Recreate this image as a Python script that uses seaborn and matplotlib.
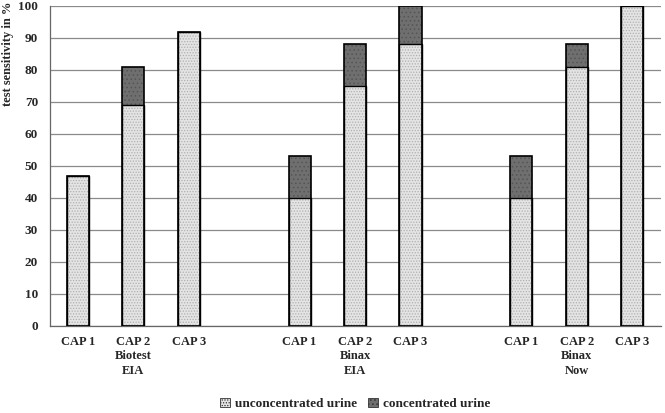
import numpy as np
import pandas as pd
import matplotlib
matplotlib.use("Agg")
import matplotlib.pyplot as plt
from matplotlib.patches import Patch
import seaborn as sns

# ---- data ----
groups = ["Biotest\nEIA", "Binax\nEIA", "Binax\nNow"]
caps = ["CAP 1", "CAP 2", "CAP 3"]
unconcentrated = [47, 69, 92, 40, 75, 88, 40, 81, 100]
concentrated_extra = [0, 12, 0, 13, 13, 12, 13, 7, 0]
legend_labels = ["unconcentrated urine", "concentrated urine"]
yticks = [0, 10, 20, 30, 40, 50, 60, 70, 80, 90, 100]
ylabel = "test sensitivity in %"

# ---- build table ----
rows = []
for gi, g in enumerate(groups):
    for ci, c in enumerate(caps):
        k = gi * 3 + ci
        rows.append(dict(pos=gi * 4 + ci, cap=c, group=g,
                         uncon=unconcentrated[k],
                         total=unconcentrated[k] + concentrated_extra[k]))
df = pd.DataFrame(rows)
ticklabels = [r.cap if i % 3 != 1 else f"{r.cap}\n{r.group}" for i, r in enumerate(df.itertuples())]

sns.set_theme(style="white")
plt.rcParams['font.family'] = ['Liberation Serif', 'DejaVu Serif']
plt.rcParams['hatch.linewidth'] = 0.6

fig = plt.figure(figsize=(6.65, 4.13), dpi=100)
ax = fig.add_axes([0.075, 0.2107, 0.919, 0.7748])

light = "#e4e4e4"
dark = "#6f6f6f"
W = 0.4

# concentrated (total) bars - dark
sns.barplot(data=df, x="pos", y="total", native_scale=True, width=W,
            color=dark, saturation=1, hatch="....", edgecolor="#555555",
            linewidth=0, ax=ax, zorder=2)
# unconcentrated bars - light dotted
sns.barplot(data=df, x="pos", y="uncon", native_scale=True, width=W,
            color=light, saturation=1, hatch="......", edgecolor="#b0b0b0",
            linewidth=0, ax=ax, zorder=3)
# outlines
sns.barplot(data=df, x="pos", y="total", native_scale=True, width=W,
            fill=False, color="black", linewidth=1.2, ax=ax, zorder=4)
sns.barplot(data=df, x="pos", y="uncon", native_scale=True, width=W,
            fill=False, color="black", linewidth=1.0, ax=ax, zorder=4)

ax.set_xlim(-0.505, 10.52)
ax.set_ylim(0, 100)
ax.set_yticks(yticks)
ax.set_yticklabels([str(t) for t in yticks], fontsize=9.5, fontweight="bold")
ax.set_xticks(df["pos"])
ax.set_xticklabels(ticklabels, fontsize=9, fontweight="bold", linespacing=1.3)
ax.set_xlabel("")
ax.set_ylabel(ylabel, loc="top", fontsize=9, fontweight="bold")
ax.yaxis.set_label_coords(-0.058, 1.013)

ax.yaxis.grid(True, color="#8a8a8a", linewidth=0.9, zorder=0)
ax.set_axisbelow(True)
for s in ["top", "right"]:
    ax.spines[s].set_visible(False)
ax.spines["left"].set_color("#666666")
ax.spines["bottom"].set_color("#666666")
ax.spines["left"].set_linewidth(0.9)
ax.spines["bottom"].set_linewidth(0.9)
ax.tick_params(axis="y", length=3.5, color="#666666", pad=5)
ax.tick_params(axis="x", length=0, pad=7)

handles = [Patch(facecolor=light, edgecolor="#333333", hatch="......", linewidth=0.6),
           Patch(facecolor=dark, edgecolor="#333333", hatch="....", linewidth=0.6)]
fig.legend(handles, legend_labels, loc="center", bbox_to_anchor=(0.534, 0.022),
           ncol=2, frameon=False, handlelength=0.75, handleheight=0.75,
           handletextpad=0.4, columnspacing=0.8,
           prop={"weight": "bold", "size": 9.5})

fig.savefig("out.png", dpi=100)
